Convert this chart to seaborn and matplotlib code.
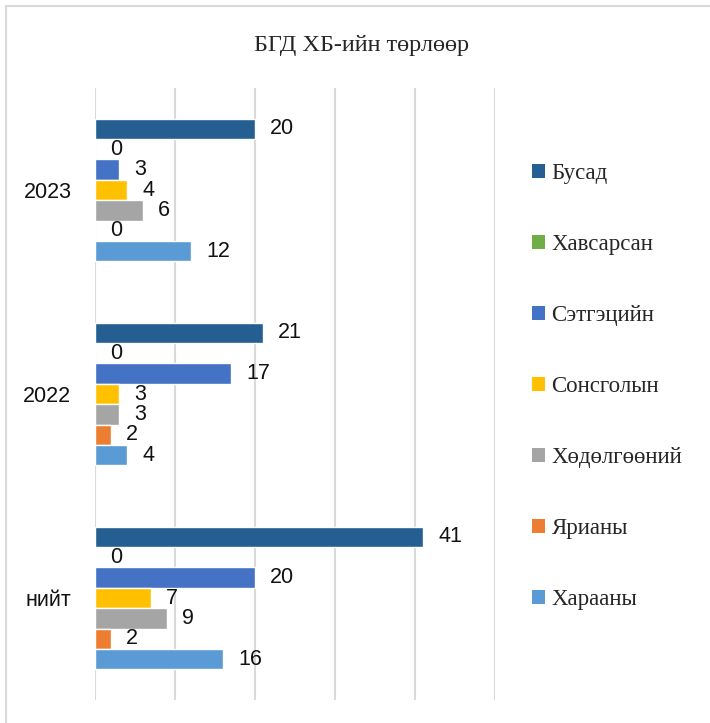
import pandas as pd
import matplotlib
matplotlib.use("Agg")
import matplotlib.pyplot as plt
import seaborn as sns
from matplotlib.patches import Rectangle, Patch

# Data
years = ["2023", "2022", "нийт"]
types = ["Бусад", "Хавсарсан", "Сэтгэцийн", "Сонсголын", "Хөдөлгөөний", "Ярианы", "Харааны"]
busad = [20, 21, 41]
havsarsan = [0, 0, 0]
setgets = [3, 17, 20]
sonsgol = [4, 3, 7]
hodolgoon = [6, 3, 9]
yariany = [0, 2, 2]
haraany = [12, 4, 16]
colors = ["#255E91", "#70AD47", "#4472C4", "#FFC000", "#A5A5A5", "#ED7D31", "#5B9BD5"]

series = [busad, havsarsan, setgets, sonsgol, hodolgoon, yariany, haraany]
rows = []
for name, vals in zip(types, series):
    for y, v in zip(years, vals):
        rows.append({"year": y, "type": name, "value": v})
df = pd.DataFrame(rows)

sns.set_style("white")
plt.rcParams['font.family'] = ['Liberation Sans', 'DejaVu Sans']

fig = plt.figure(figsize=(7.1, 7.23), dpi=100)
ax = fig.add_axes([95 / 710, 1 - 700 / 723, 400 / 710, 612 / 723])

sns.barplot(data=df, y="year", x="value", hue="type", order=years,
            hue_order=types, palette=colors, orient="h", width=0.7,
            saturation=1, ax=ax, legend=False)

# data labels
for cont in ax.containers:
    ax.bar_label(cont, padding=11, fontsize=15.5, color="#111111")

ax.set_xlim(0, 50)
ax.set_xticks(range(0, 51, 10))
ax.set_xticklabels([])
ax.grid(axis="x", color="#D9D9D9", linewidth=1.5)
ax.set_axisbelow(True)
for s in ax.spines.values():
    s.set_visible(False)
ax.tick_params(axis="both", length=0)
ax.tick_params(axis="y", labelsize=15.5, pad=17, labelcolor="#111111")
ax.set_xlabel("")
ax.set_ylabel("")

# legend
handles = [Patch(facecolor=c, edgecolor="none") for c in colors]
fig.legend(handles, types, loc="center left",
           bbox_to_anchor=(532 / 710, 1 - 386.5 / 723), frameon=False,
           prop={"family": "Liberation Serif", "size": 16.5},
           handlelength=0.55, handleheight=0.55, handletextpad=0.3,
           labelspacing=2.18, borderpad=0, borderaxespad=0)

fig.text(362 / 710, 1 - 45 / 723, "БГД ХБ-ийн төрлөөр", ha="center", va="center",
         family="Liberation Serif", fontsize=17.5)

# chart border
fig.patches.append(Rectangle((6 / 710, -0.05), 1.2, 1 - 6 / 723 + 0.05,
                             transform=fig.transFigure, fill=False,
                             edgecolor="#D9D9D9", linewidth=1.5))

fig.savefig("out.png", dpi=100)
